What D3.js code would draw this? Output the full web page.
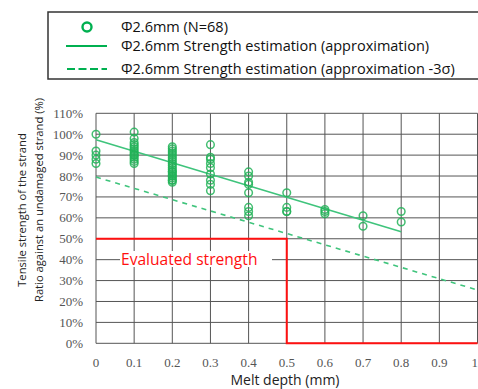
<!DOCTYPE html>
<html>
<head>
<meta charset="utf-8">
<script src="https://cdn.jsdelivr.net/npm/d3@7"></script>
<style>
  body { margin: 0; background: #fff; }
  svg { display: block; }
  .tick { font-family: "Liberation Serif", "DejaVu Serif", serif; font-size: 13px; fill: #555; }
  .sans { font-family: "Open Sans", sans-serif; }
</style>
</head>
<body>
<div id="chart"></div>
<script>
// constants for the size of the picture
const width = 478;
const height = 389;

// measured strength ratio (%) at each melt depth (mm)
const depths = [0, 0.1, 0.2, 0.3, 0.4, 0.5, 0.6, 0.7, 0.8];
const strengths = [
    [100, 92, 90, 88, 86],
    [101, 98, 96, 95, 94, 93, 92, 91, 90, 90, 89, 88, 87, 86],
    [94, 93, 92, 91, 90, 89, 88, 87, 86, 85, 84, 83, 82, 82, 81, 80, 80, 79, 78, 78, 77],
    [95, 89, 88, 86, 84, 81, 78, 76, 73],
    [82, 80, 77, 76, 72, 65, 63, 61],
    [72, 65, 63, 63],
    [64, 63, 62],
    [61, 56],
    [63, 58]
];

// strength estimation lines (approximation and -3 sigma)
const fitLine = [[0, 97.3], [0.8, 53.4]];
const sigmaLine = [[0, 79.5], [1, 25.5]];
// evaluated strength step
const evaluated = [[0, 50], [0.5, 50], [0.5, 0], [1, 0]];

const xTicks = [0, 0.1, 0.2, 0.3, 0.4, 0.5, 0.6, 0.7, 0.8, 0.9, 1];
const yTicks = [0, 10, 20, 30, 40, 50, 60, 70, 80, 90, 100, 110];

const legendLabels = [
    "Φ2.6mm (N=68)",
    "Φ2.6mm Strength estimation (approximation)",
    "Φ2.6mm Strength estimation (approximation -3σ)"
];

const green = "#22b358";
const lightGreen = "#3fc47c";
const red = "#ff1010";
const grid = "#555";

const points = [];
depths.forEach((d, i) => strengths[i].forEach(v => points.push({x: d, y: v})));

const svg = d3.select("#chart")
    .append("svg")
    .attr("width", width)
    .attr("height", height);

const x = d3.scaleLinear().domain([0, 1]).range([96, 477.5]);
const y = d3.scaleLinear().domain([0, 110]).range([343.3, 113.3]);

// grid
svg.append("g")
    .selectAll("line")
    .data(xTicks)
    .enter()
    .append("line")
    .attr("x1", d => x(d))
    .attr("x2", d => x(d))
    .attr("y1", y(110))
    .attr("y2", y(0))
    .attr("stroke", grid)
    .attr("stroke-width", 1);

svg.append("g")
    .selectAll("line")
    .data(yTicks)
    .enter()
    .append("line")
    .attr("x1", x(0))
    .attr("x2", x(1))
    .attr("y1", d => y(d))
    .attr("y2", d => y(d))
    .attr("stroke", grid)
    .attr("stroke-width", 1);

// tick labels
svg.append("g")
    .selectAll("text")
    .data(yTicks)
    .enter()
    .append("text")
    .attr("class", "tick")
    .attr("x", 83)
    .attr("y", d => y(d) + 4.5)
    .attr("text-anchor", "end")
    .text(d => d + "%");

svg.append("g")
    .selectAll("text")
    .data(xTicks)
    .enter()
    .append("text")
    .attr("class", "tick")
    .attr("x", d => d === 1 ? width : x(d))
    .attr("y", 367)
    .attr("text-anchor", d => d === 1 ? "end" : "middle")
    .text(d => d3.format("~g")(d));

// evaluated strength
const line = d3.line().x(d => x(d[0])).y(d => y(d[1]));

svg.append("path")
    .attr("d", line(evaluated))
    .attr("fill", "none")
    .attr("stroke", red)
    .attr("stroke-width", 2);

svg.append("rect")
    .attr("x", 120)
    .attr("y", 251)
    .attr("width", 152)
    .attr("height", 16)
    .attr("fill", "#fff");

svg.append("text")
    .attr("class", "sans")
    .attr("x", 121)
    .attr("y", 264.5)
    .attr("font-size", 15.6)
    .attr("fill", red)
    .text("Evaluated strength");

// estimation lines
svg.append("path")
    .attr("d", line(sigmaLine))
    .attr("fill", "none")
    .attr("stroke", lightGreen)
    .attr("stroke-width", 1.6)
    .attr("stroke-dasharray", "5,5");

svg.append("path")
    .attr("d", line(fitLine))
    .attr("fill", "none")
    .attr("stroke", lightGreen)
    .attr("stroke-width", 1.6);

// measured points
svg.append("g")
    .selectAll("circle")
    .data(points)
    .enter()
    .append("circle")
    .attr("cx", d => x(d.x))
    .attr("cy", d => y(d.y))
    .attr("r", 3.8)
    .attr("fill", "none")
    .attr("stroke", green)
    .attr("stroke-width", 1.5)
    .attr("opacity", 0.85);

// axis titles
svg.append("text")
    .attr("class", "sans")
    .attr("x", 285)
    .attr("y", 385)
    .attr("text-anchor", "middle")
    .attr("font-size", 14)
    .attr("fill", "#222")
    .text("Melt depth (mm)");

svg.append("text")
    .attr("class", "sans")
    .attr("transform", "translate(26,210) rotate(-90)")
    .attr("text-anchor", "middle")
    .attr("font-size", 11.2)
    .attr("fill", "#222")
    .text("Tensile strength of the strand");

svg.append("text")
    .attr("class", "sans")
    .attr("transform", "translate(43,200) rotate(-90)")
    .attr("text-anchor", "middle")
    .attr("font-size", 11.2)
    .attr("fill", "#222")
    .text("Ratio against an undamaged strand (%)");

// legend
const legend = svg.append("g");

legend.append("rect")
    .attr("x", 48)
    .attr("y", 12)
    .attr("width", 440)
    .attr("height", 67)
    .attr("fill", "#fff")
    .attr("stroke", "#333")
    .attr("stroke-width", 1.5);

const rows = [27, 46, 69];

legend.append("circle")
    .attr("cx", 87)
    .attr("cy", rows[0])
    .attr("r", 4.5)
    .attr("fill", "none")
    .attr("stroke", "#00b050")
    .attr("stroke-width", 2.4);

legend.append("line")
    .attr("x1", 66).attr("x2", 107)
    .attr("y1", rows[1]).attr("y2", rows[1])
    .attr("stroke", "#00b050")
    .attr("stroke-width", 2.2);

legend.append("line")
    .attr("x1", 67).attr("x2", 107)
    .attr("y1", rows[2]).attr("y2", rows[2])
    .attr("stroke", "#00b050")
    .attr("stroke-width", 2.2)
    .attr("stroke-dasharray", "8,3.5");

legend.selectAll("text")
    .data(legendLabels)
    .enter()
    .append("text")
    .attr("class", "sans")
    .attr("x", 121)
    .attr("y", (d, i) => rows[i] + 5)
    .attr("font-size", 14.5)
    .attr("fill", "#111")
    .text(d => d);
</script>
</body>
</html>
